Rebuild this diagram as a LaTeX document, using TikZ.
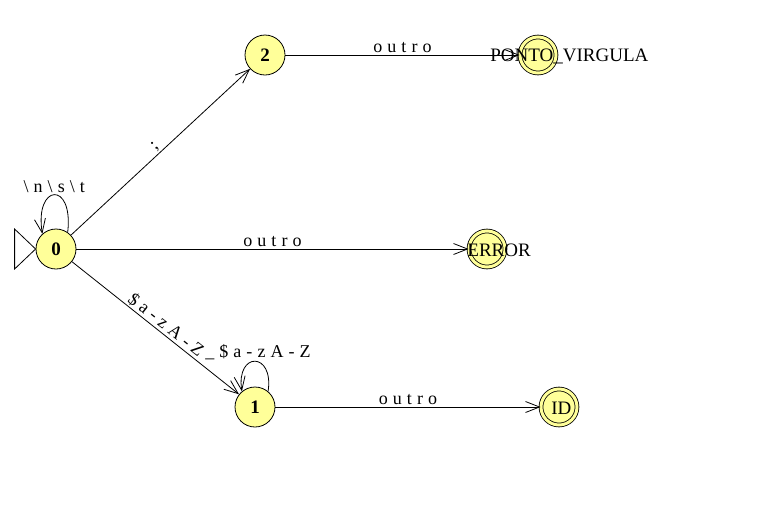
\documentclass[tikz,border=0pt]{standalone}
\usepackage{fontspec}
\setmainfont{Liberation Serif}
\newfontfamily\spacedfont[LetterSpace=28]{Liberation Serif}
\usetikzlibrary{arrows.meta}
\definecolor{statefill}{RGB}{255,255,153}

\begin{document}
\begin{tikzpicture}[x=1pt, y=-1pt, line width=0.8pt,
    state/.style={circle, draw, fill=statefill, minimum size=40pt, inner sep=0pt, font=\fontsize{19}{21}\selectfont\bfseries},
    accept/.style={circle, draw, fill=statefill, double=statefill, double distance=3pt, minimum size=36pt, inner sep=0pt},
    acctext/.style={anchor=west, inner sep=0pt, font=\fontsize{19}{22}\selectfont},
    edge/.style={-{Straight Barb[length=14pt, width=11pt, line width=0.8pt]}},
    lbl/.style={font=\fontsize{18}{20}\selectfont\spacedfont, inner sep=1.5pt}]
\useasboundingbox (0,0) rectangle (771,531);
\fill[white] (0,0) rectangle (771,531);

% states
\node[state] (q0) at (56,249) {0};
\node[state] (q2) at (265,55) {2};
\node[state] (q1) at (255,407) {1};
\node[accept] (pv) at (538,55) {};
\node[accept] (err) at (487,249) {};
\node[accept] (id) at (559,407) {};

% initial state marker
\draw (q0.west) -- ++(-21,-20) -- ++(0,40) -- cycle;

% transitions
\draw[edge] (q0) -- (q2) node[lbl, midway, sloped, above] {;};
\draw[edge] (q0) -- (err) node[lbl, midway, above] {outro};
\draw[edge] (q0) -- (q1) node[lbl, pos=0.53, sloped, above] {\$a-zA-Z};
\draw[edge] (q2) -- (pv) node[lbl, midway, above] {outro};
\draw[edge] (q1) -- (id) node[lbl, midway, above] {outro};
\draw[edge] (q0.55) .. controls +(6,-52) and +(-8,-50) .. (q0.132)
    node[lbl, pos=0.5, above] {\textbackslash n\textbackslash s\textbackslash t};
\draw[edge] (q1.50) .. controls +(6,-40) and +(-6,-40) .. (q1.130)
    node[lbl, pos=0.5, above, xshift=3pt] {\_\$a-zA-Z};

% final state names
\node[acctext] (pvname) at (490,56) {PONTO\_VIRGULA};
\node[acctext] (errname) at (467,250) {ERROR};
\node[acctext] (idname) at (551,408) {ID};

\end{tikzpicture}
\end{document}
